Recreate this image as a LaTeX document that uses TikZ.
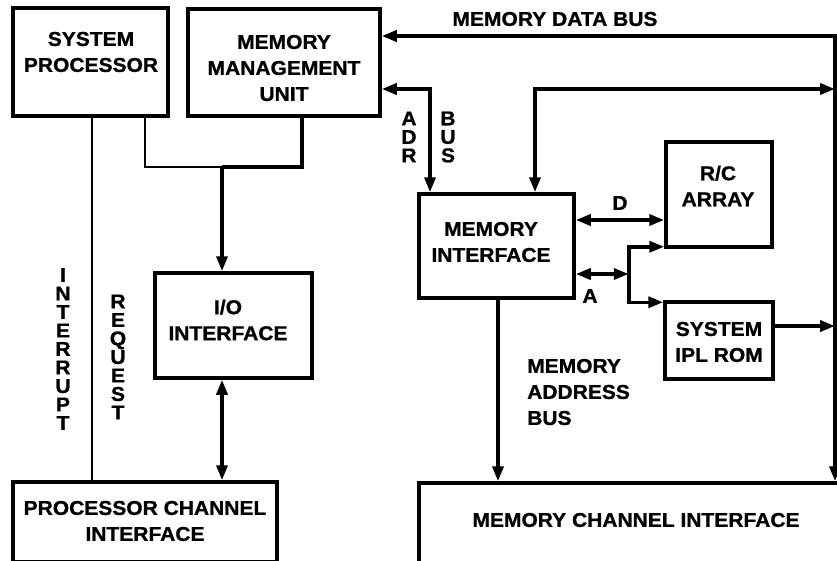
\documentclass[tikz,border=0pt]{standalone}
\usepackage{fontspec}
\newfontfamily\diagfont{Liberation Sans}[UprightFont=* Bold, FakeStretch=1.05, FakeBold=1]
\usetikzlibrary{arrows.meta}

\begin{document}
\begin{tikzpicture}[
            x=1pt, y=-1pt,
            block/.style={rectangle, draw=black, line width=3.5pt, inner sep=0pt},
            blocktext/.style={align=center, inner sep=0pt, font=\diagfont\fontsize{20}{26}\selectfont},
            vtext/.style={align=center, inner sep=0pt, font=\diagfont\fontsize{20}{18.5}\selectfont},
            bus/.style={line width=3.5pt, >={Triangle[length=15pt,width=11pt]}},
            wire/.style={line width=2.2pt}
        ]
        \useasboundingbox (0,0) rectangle (837,560);
        \clip (0,0) rectangle (837,560);

        % blocks
        \node[block, minimum width=155pt, minimum height=108pt] (sysproc) at (90.5,62) {};
        \node[block, minimum width=192pt, minimum height=107pt] (mmu) at (284,62.5) {};
        \node[block, minimum width=157pt, minimum height=105pt] (io) at (233.5,325.5) {};
        \node[block, minimum width=264pt, minimum height=80pt] (pci) at (145,522) {};
        \node[block, minimum width=155pt, minimum height=104pt] (memif) at (496.5,246) {};
        \node[block, minimum width=106pt, minimum height=105pt] (rc) at (719,194.5) {};
        \node[block, minimum width=108pt, minimum height=77pt] (rom) at (719,340.5) {};
        \node[block, minimum width=442pt, minimum height=90pt] (mci) at (640,528) {};

        \node[blocktext] (sysproctext) at (91,52) {SYSTEM\\PROCESSOR};
        \node[blocktext] (mmutext) at (284,68) {MEMORY\\MANAGEMENT\\UNIT};
        \node[blocktext] (iotext) at (228,320) {I/O\\INTERFACE};
        \node[blocktext] (pcitext) at (145,521) {PROCESSOR CHANNEL\\INTERFACE};
        \node[blocktext] (memiftext) at (491,242) {MEMORY\\INTERFACE};
        \node[blocktext] (rctext) at (718,186) {R/C\\ARRAY};
        \node[blocktext] (romtext) at (719,342) {SYSTEM\\IPL ROM};
        \node[blocktext] (mcitext) at (636,520) {MEMORY CHANNEL INTERFACE};

        % bus labels
        \node[blocktext] (dbuslabel) at (555,19) {MEMORY DATA BUS};
        \node[vtext] (adrlabel) at (409,137) {A\\D\\R};
        \node[vtext] (buslabel) at (448,137) {B\\U\\S};
        \node[blocktext] (dlabel) at (620,203) {D};
        \node[blocktext] (alabel) at (590,296) {A};
        \node[blocktext, align=left, anchor=west] (mablabel) at (527,392) {MEMORY\\ADDRESS\\BUS};
        \node[vtext] (intlabel) at (63,349) {I\\N\\T\\E\\R\\R\\U\\P\\T};
        \node[vtext] (reqlabel) at (118,357) {R\\E\\Q\\U\\E\\S\\T};

        % memory data bus
        \coordinate (dbtop) at (835,36);
        \coordinate (adr) at (430,89);
        \coordinate (mdb) at (535,89);
        \draw[bus, <->] (mmu.east |- dbtop) -| (mci.north -| dbtop);
        \draw[bus, <->] (mmu.east |- adr) -| (memif.north -| adr);
        \draw[bus, <->] (memif.north -| mdb) |- (dbtop |- mdb);
        \draw[bus, ->] (rom.east) ++(0,-14.5) coordinate (romout) -- (romout -| dbtop);

        % D and A lines
        \draw[bus, <->] (memif.east) ++(0,-26) coordinate (dline) -- (dline -| rc.west);
        \draw[bus, <->] (memif.east) ++(0,28) coordinate (aline) -- ++(53,0) coordinate (ajoin);
        \draw[bus, ->] (ajoin) |- ([yshift=2pt]rc.south west);
        \draw[bus, ->] (ajoin) |- ([yshift=-2pt]rom.north west);

        % memory address bus
        \draw[bus, ->] ([xshift=1.5pt]memif.south) -- ([xshift=1.5pt]memif.south |- mci.north);

        % processor side
        \coordinate (join) at (222,167);
        \draw[wire] ([xshift=1.5pt]sysproc.south) -- ([xshift=1.5pt]sysproc.south |- pci.north);
        \draw[wire] ([xshift=-25pt]sysproc.south east) |- (join);
        \draw[bus] (join) -| ([xshift=18pt]mmu.south);
        \draw[bus, ->] (join) -- (join |- io.north);
        \draw[bus, <->] (join |- io.south) -- (join |- pci.north);

    \end{tikzpicture}
\end{document}
